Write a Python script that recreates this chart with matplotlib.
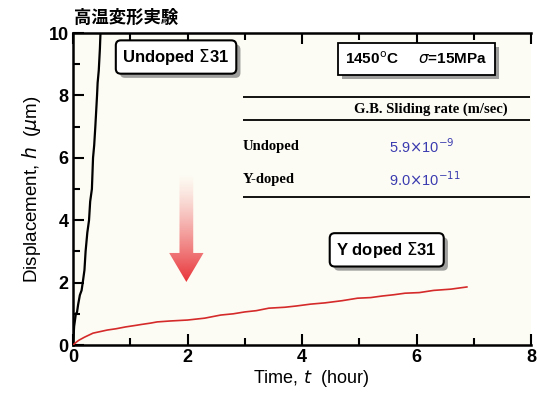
import numpy as np
import matplotlib
matplotlib.use('Agg')
import matplotlib.pyplot as plt
import matplotlib.patheffects as pe
from matplotlib.patches import Polygon

plt.rcParams['font.family'] = ['Liberation Sans', 'DejaVu Sans']

# Undoped sigma31: steep rise
undoped_t = [0.0, 0.02, 0.05, 0.07, 0.09, 0.12, 0.15, 0.17, 0.20, 0.22, 0.25, 0.28, 0.30,
             0.33, 0.35, 0.37, 0.39, 0.42, 0.43, 0.45, 0.47, 0.48]
undoped_h = [0.0, 0.6, 1.0, 1.05, 1.3, 1.6, 1.75, 2.0, 2.4, 3.0, 3.6, 4.0, 4.6,
             5.0, 6.0, 6.4, 7.0, 8.0, 8.4, 8.8, 9.5, 10.0]

# Y doped sigma31: slow rise
ydoped_t = [0.0, 0.05, 0.1, 0.2, 0.35, 0.5, 0.6, 0.75, 0.92, 1.1, 1.2, 1.35, 1.47, 1.7, 2.0,
            2.3, 2.58, 2.8, 3.0, 3.2, 3.42, 3.7, 3.9, 4.15, 4.4, 4.7, 4.97, 5.2, 5.4, 5.6,
            5.8, 6.05, 6.3, 6.6, 6.88]
ydoped_h = [0.0, 0.08, 0.15, 0.25, 0.38, 0.44, 0.48, 0.52, 0.58, 0.63, 0.66, 0.70, 0.74, 0.77, 0.80,
            0.86, 0.96, 1.00, 1.06, 1.10, 1.18, 1.21, 1.25, 1.31, 1.35, 1.42, 1.50, 1.52, 1.57, 1.61,
            1.66, 1.68, 1.75, 1.79, 1.86]

rate_rows = ['Undoped', 'Y-doped']
rate_vals = [r'5.9$\times$10$^{-9}$', r'9.0$\times$10$^{-11}$']

fig = plt.figure(figsize=(5.4, 3.95), dpi=100)
ax = fig.add_axes([73 / 540, 50 / 395, 458 / 540, 312 / 395])
ax.set_facecolor('#fdfcf4')

ax.plot(undoped_t, undoped_h, color='black', lw=1.6, zorder=4)
ax.plot(ydoped_t, ydoped_h, color='#d42a2a', lw=1.2, zorder=4)

ax.set_xlim(0, 8)
ax.set_ylim(0, 10)
ax.set_xticks([0, 2, 4, 6, 8])
ax.set_yticks([0, 2, 4, 6, 8, 10])
ax.set_xticks([1, 3, 5, 7], minor=True)
ax.set_yticks([1, 3, 5, 7, 9], minor=True)
ax.tick_params(which='both', direction='in', top=True, right=False, width=1.5,
               labelsize=13, pad=3)
ax.tick_params(which='major', length=8)
ax.tick_params(which='minor', length=5)
for lab in ax.get_xticklabels() + ax.get_yticklabels():
    lab.set_fontweight('bold')
for s in ['left', 'bottom', 'top']:
    ax.spines[s].set_linewidth(1.8)
ax.spines['right'].set_visible(False)

ax.set_xlabel(r'Time, $t$  (hour)', fontsize=13, labelpad=0)
ax.set_ylabel(r'Displacement, $h$  ($\mu$m)', fontsize=13.5, labelpad=4)
ax.xaxis.set_label_coords(0.52, -0.075)

fig.text(74 / 540, 1 - 18 / 395, '高温変形実験', fontsize=12.5, fontweight='bold',
         family=['Noto Sans CJK JP'], va='center', ha='left')

shadow = [pe.withSimplePatchShadow(offset=(3, -3), shadow_rgbFace='#888888', alpha=0.8)]

t1 = ax.text(1.8, 9.23, r'Undoped $\Sigma$31', fontsize=12, fontweight='bold',
             ha='center', va='center', zorder=6,
             bbox=dict(boxstyle='round,pad=0.4,rounding_size=0.3', fc='white', ec='black', lw=1.5))
t2 = ax.text(6.0, 9.17, r'1450$^{\rm o}$C     $\sigma$=15MPa', fontsize=11, fontweight='bold',
             ha='center', va='center', zorder=6,
             bbox=dict(boxstyle='square,pad=0.5', fc='white', ec='black', lw=1.3))
t3 = ax.text(5.48, 3.05, r'Y doped $\Sigma$31', fontsize=12, fontweight='bold',
             ha='center', va='center', zorder=6,
             bbox=dict(boxstyle='round,pad=0.4,rounding_size=0.3', fc='white', ec='black', lw=1.5))
for t in (t1, t2, t3):
    t.get_bbox_patch().set_path_effects(shadow)

# table of grain boundary sliding rates
ax.hlines([7.95, 7.21, 4.74], 2.97, 7.98, color='black', lw=1.3, zorder=3)
ax.text(6.25, 7.55, 'G.B. Sliding rate (m/sec)', family=['Liberation Serif'], fontsize=10.5,
        fontweight='bold', ha='center', va='center')
for i, (row, val) in enumerate(zip(rate_rows, rate_vals)):
    y = 6.35 - i * 1.06
    ax.text(2.97, y, row, family=['Liberation Serif'], fontsize=10.5, fontweight='bold',
            ha='left', va='center')
    ax.text(5.52, y, val, fontsize=10.5, color='#3b3bb0', ha='left', va='center')

# gradient arrow
arrow = Polygon([(1.86, 5.5), (2.1, 5.5), (2.1, 2.95), (2.28, 2.95), (1.98, 2.02),
                 (1.68, 2.95), (1.86, 2.95)], closed=True, transform=ax.transData,
                fc='none', ec='none')
ax.add_patch(arrow)
grad = np.linspace(0, 1, 256)[:, None] ** 1.3
rgba = np.zeros((256, 1, 4))
rgba[..., 0] = 0.91
rgba[..., 1] = 0.2
rgba[..., 2] = 0.22
rgba[..., 3] = grad
img = ax.imshow(rgba, extent=(1.68, 2.28, 2.02, 5.5), origin='upper', aspect='auto',
                interpolation='bilinear', zorder=2)
img.set_clip_path(arrow)
ax.set_xlim(0, 8)
ax.set_ylim(0, 10)

fig.savefig('out.png', dpi=100)
